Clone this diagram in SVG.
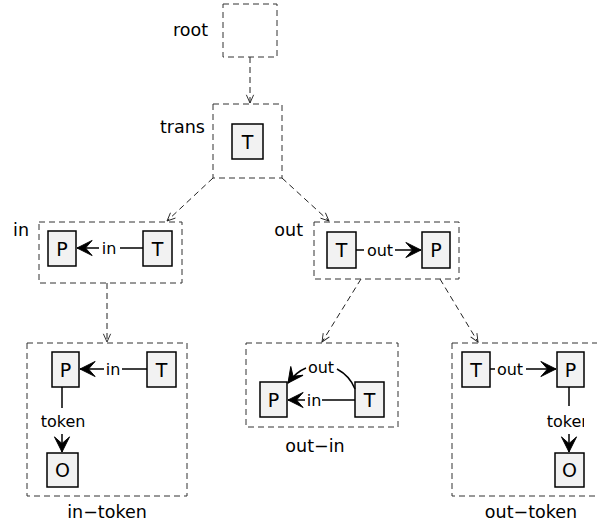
<svg xmlns="http://www.w3.org/2000/svg" width="597" height="524" viewBox="0 0 597 524">
<style>
text{font-family:"DejaVu Sans",sans-serif;fill:#000}
.lbl{font-size:17.5px}
.nl{font-size:19px;text-anchor:middle}
.el{font-size:16px;text-anchor:middle}
.box{fill:none;stroke:#333;stroke-width:1;stroke-dasharray:6,4}
.node{fill:#f2f2f2;stroke:#000;stroke-width:1.5}
.conn{fill:none;stroke:#222;stroke-width:1;stroke-dasharray:6,4}
.e{fill:none;stroke:#000;stroke-width:1.5}
</style>
<defs>
<marker id="open" markerWidth="10" markerHeight="10" viewBox="-10 -5 11 10" refX="0" refY="0" orient="auto" markerUnits="userSpaceOnUse">
<path d="M-9,-4 L0,0 L-9,4" fill="none" stroke="#222" stroke-width="1"/>
</marker>
<marker id="vee" markerWidth="17" markerHeight="18" viewBox="-17 -9 18 18" refX="0" refY="0" orient="auto" markerUnits="userSpaceOnUse">
<path d="M0,0 L-16,-8 L-9,0 L-16,8 Z" fill="#000" stroke="#000" stroke-width="1"/>
</marker>
<clipPath id="clipTok"><rect x="540" y="405" width="44" height="30"/></clipPath>
</defs>

<g id="connectors">
<line class="conn" x1="250" y1="57" x2="250" y2="103" marker-end="url(#open)"/>
<line class="conn" x1="213" y1="178" x2="167" y2="221" marker-end="url(#open)"/>
<line class="conn" x1="282" y1="178" x2="329" y2="221" marker-end="url(#open)"/>
<line class="conn" x1="107" y1="283" x2="107" y2="342" marker-end="url(#open)"/>
<line class="conn" x1="361" y1="279" x2="322" y2="342" marker-end="url(#open)"/>
<line class="conn" x1="440" y1="279" x2="478" y2="342" marker-end="url(#open)"/>
</g>

<g id="root">
<rect class="box" x="223" y="4" width="54" height="53"/>
<text class="lbl" x="208" y="36" text-anchor="end">root</text>
</g>

<g id="trans">
<rect class="box" x="213" y="104" width="69" height="74"/>
<text class="lbl" x="205" y="133" text-anchor="end">trans</text>
<rect class="node" x="232" y="124" width="31" height="35"/>
<text class="nl" x="247.5" y="148.5">T</text>
</g>

<g id="in">
<rect class="box" x="39" y="222" width="143" height="61"/>
<text class="lbl" x="29" y="236" text-anchor="end">in</text>
<rect class="node" x="48" y="231" width="28" height="35"/>
<text class="nl" x="62" y="255.5">P</text>
<rect class="node" x="143" y="231" width="29" height="35"/>
<text class="nl" x="157.5" y="255.5">T</text>
<line class="e" x1="143" y1="248" x2="120" y2="248"/>
<text class="el" x="109" y="254">in</text>
<line class="e" x1="99" y1="248" x2="77" y2="248" marker-end="url(#vee)"/>
</g>

<g id="out">
<rect class="box" x="314" y="222" width="145" height="57"/>
<text class="lbl" x="303" y="236" text-anchor="end">out</text>
<rect class="node" x="327" y="232" width="29" height="36"/>
<text class="nl" x="341.5" y="257">T</text>
<rect class="node" x="422" y="232" width="28" height="36"/>
<text class="nl" x="436" y="257">P</text>
<line class="e" x1="356" y1="250" x2="364" y2="250"/>
<text class="el" x="380" y="256">out</text>
<line class="e" x1="395" y1="250" x2="421" y2="250" marker-end="url(#vee)"/>
</g>

<g id="in-token">
<rect class="box" x="27" y="343" width="160" height="153"/>
<text class="lbl" x="107" y="518" text-anchor="middle">in−token</text>
<rect class="node" x="52" y="352" width="27" height="35"/>
<text class="nl" x="65.5" y="376.5">P</text>
<rect class="node" x="147" y="352" width="29" height="35"/>
<text class="nl" x="161.5" y="376.5">T</text>
<rect class="node" x="47" y="453" width="31" height="34"/>
<text class="nl" x="62.5" y="477">O</text>
<line class="e" x1="147" y1="369" x2="122" y2="369"/>
<text class="el" x="113" y="375">in</text>
<line class="e" x1="104" y1="369" x2="80" y2="369" marker-end="url(#vee)"/>
<line class="e" x1="62" y1="387" x2="62" y2="408"/>
<text class="el" x="63" y="427">token</text>
<line class="e" x1="62" y1="434" x2="62" y2="452" marker-end="url(#vee)"/>
</g>

<g id="out-in">
<rect class="box" x="246" y="343" width="152" height="84"/>
<text class="lbl" x="315" y="452" text-anchor="middle">out−in</text>
<rect class="node" x="260" y="382" width="27" height="35"/>
<text class="nl" x="273.5" y="406.5">P</text>
<rect class="node" x="355" y="382" width="29" height="35"/>
<text class="nl" x="369.5" y="406.5">T</text>
<line class="e" x1="355" y1="400" x2="322" y2="400"/>
<text class="el" x="314" y="406">in</text>
<line class="e" x1="305" y1="400" x2="288" y2="400" marker-end="url(#vee)"/>
<path class="e" d="M355,389 Q350,376 337,369"/>
<text class="el" x="321" y="373">out</text>
<path class="e" d="M306,368 Q296,372 288,383" marker-end="url(#vee)"/>
</g>

<g id="out-token">
<rect class="box" x="452" y="343" width="160" height="153"/>
<text class="lbl" x="531" y="518" text-anchor="middle">out−token</text>
<rect class="node" x="462" y="352" width="28" height="35"/>
<text class="nl" x="476" y="376.5">T</text>
<rect class="node" x="557" y="352" width="27" height="35"/>
<text class="nl" x="570.5" y="376.5">P</text>
<rect class="node" x="555" y="453" width="29" height="34"/>
<text class="nl" x="569.5" y="477">O</text>
<line class="e" x1="490" y1="369" x2="495" y2="369"/>
<text class="el" x="510" y="375">out</text>
<line class="e" x1="526" y1="369" x2="556" y2="369" marker-end="url(#vee)"/>
<line class="e" x1="569" y1="387" x2="569" y2="406"/>
<text class="el" x="569" y="427" clip-path="url(#clipTok)">token</text>
<line class="e" x1="569" y1="434" x2="569" y2="452" marker-end="url(#vee)"/>
</g>
</svg>
